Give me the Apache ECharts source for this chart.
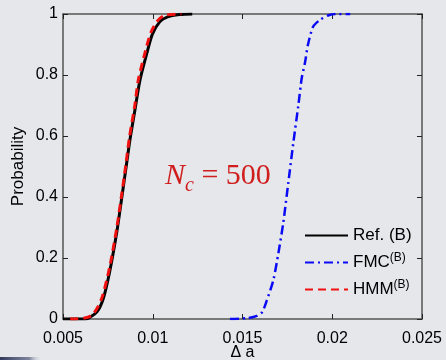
<!DOCTYPE html>
<html>
<head>
<meta charset="utf-8">
<script src="https://cdn.jsdelivr.net/npm/echarts@6/dist/echarts.min.js"></script>
<style>
  html, body { margin: 0; padding: 0; background: #e6e7eb; }
  #chart { width: 446px; height: 360px; }
</style>
</head>
<body>
<div id="chart"></div>
<script>
// cumulative curves: [delta a, probability]
const refB = [
  [0.0050, 0], [0.0062, 0], [0.0064, 0.002], [0.0069, 0.024], [0.00725, 0.068],
  [0.0076, 0.155], [0.0080, 0.286], [0.00827, 0.396], [0.00852, 0.5],
  [0.00873, 0.588], [0.00901, 0.686], [0.00929, 0.784], [0.00966, 0.869],
  [0.00998, 0.934], [0.0104, 0.975], [0.0108, 0.99], [0.0115, 0.998], [0.0122, 1]
];
const hmmB = [
  [0.0054, 0], [0.0062, 0.003], [0.0066, 0.012], [0.0069, 0.035], [0.0072, 0.075],
  [0.0076, 0.17], [0.0080, 0.30], [0.00825, 0.40], [0.0085, 0.505], [0.0087, 0.595],
  [0.0090, 0.70], [0.0092, 0.785], [0.0096, 0.88], [0.0099, 0.94],
  [0.0103, 0.98], [0.0107, 0.996], [0.0116, 1]
];
const fmcB = [
  [0.0143, 0], [0.0153, 0.003], [0.0158, 0.01], [0.0161, 0.023], [0.01635, 0.06],
  [0.01672, 0.128], [0.0170, 0.216], [0.01727, 0.315], [0.01755, 0.446],
  [0.01783, 0.577], [0.01811, 0.70], [0.0183, 0.79], [0.01848, 0.84],
  [0.01865, 0.90], [0.01893, 0.958], [0.0193, 0.98], [0.0198, 0.996],
  [0.0202, 1], [0.0210, 1]
];
const seriesNames = ["Ref. (B)", "FMC(B)", "HMM(B)"];
const xTicks = { min: 0.005, max: 0.025, step: 0.005 };
const yTicks = { min: 0, max: 1, step: 0.2 };

const chart = echarts.init(document.getElementById("chart"), null, { renderer: "canvas" });

const axisColor = "#555";
const font = "Liberation Sans";

function baseX(show) {
  return {
    type: "value",
    min: xTicks.min,
    max: xTicks.max,
    interval: xTicks.step,
    position: show ? "bottom" : "top",
    axisLine: { show: true, onZero: false, lineStyle: { color: axisColor, width: 1.5 } },
    axisTick: { show: true, inside: true, length: 5, lineStyle: { color: "#222", width: 1 } },
    splitLine: { show: false },
    axisLabel: {
      show: show,
      color: "#000",
      fontFamily: font,
      fontSize: 16,
      margin: 12,
      formatter: (v) => String(+v.toFixed(3)),
    },
  };
}
function baseY(show) {
  return {
    type: "value",
    min: yTicks.min,
    max: yTicks.max,
    interval: yTicks.step,
    position: show ? "left" : "right",
    axisLine: { show: true, onZero: false, lineStyle: { color: axisColor, width: 1.5 } },
    axisTick: { show: true, inside: true, length: 5, lineStyle: { color: "#222", width: 1 } },
    splitLine: { show: false },
    axisLabel: {
      show: show,
      color: "#000",
      fontFamily: font,
      fontSize: 16,
      margin: 5,
      formatter: (v) => String(+v.toFixed(1)),
    },
  };
}

const xMain = baseX(true);
xMain.name = "\u0394 a";
xMain.nameLocation = "middle";
xMain.nameGap = 26;
xMain.nameMoveOverlap = false;
xMain.nameTextStyle = { color: "#000", fontFamily: font, fontSize: 16 };
const yMain = baseY(true);
yMain.name = "Probability";
yMain.nameLocation = "middle";
yMain.nameGap = 36;
yMain.nameMoveOverlap = false;
yMain.nameTextStyle = { color: "#000", fontFamily: font, fontSize: 17 };

const rich = {
  n: { fontFamily: font, fontSize: 17, color: "#000" },
  s: { fontFamily: font, fontSize: 12, color: "#000", verticalAlign: "top", padding: [0, 0, 9, 0] },
};

chart.setOption({
  backgroundColor: "#e6e7eb",
  animation: false,
  grid: { left: 63, right: 24, top: 14, bottom: 41, outerBoundsMode: "none" },
  xAxis: [xMain, baseX(false)],
  yAxis: [yMain, baseY(false)],
  legend: {
    orient: "vertical",
    left: 299,
    top: 222,
    itemWidth: 43,
    itemHeight: 14,
    itemGap: 8,
    data: seriesNames,
    itemStyle: { opacity: 0 },
    formatter: (name) => {
      if (name === "Ref. (B)") return "{n|Ref. (B)}";
      return "{n|" + name.replace("(B)", "") + "}{s|(B)}";
    },
    textStyle: { rich: rich },
  },
  graphic: [
    {
      type: "text",
      left: 165,
      top: 161,
      style: {
        text: "{i|N}{c|c}{e| = 500}",
        fill: "#d01e1e",
        rich: {
          i: { fontFamily: "Liberation Serif", fontStyle: "italic", fontSize: 30, fill: "#d01e1e" },
          c: { fontFamily: "Liberation Serif", fontStyle: "italic", fontSize: 20, fill: "#d01e1e", padding: [20, 0, 0, 0] },
          e: { fontFamily: "Liberation Serif", fontSize: 30, fill: "#d01e1e" },
        },
      },
    },
    {
      // scan shadow in the bottom-left corner of the original figure
      type: "rect",
      left: 0,
      bottom: 0,
      shape: { width: 42, height: 3 },
      style: {
        fill: new echarts.graphic.LinearGradient(0, 0, 1, 0, [
          { offset: 0, color: "rgba(30,40,75,0.9)" },
          { offset: 0.7, color: "rgba(60,70,110,0.6)" },
          { offset: 1, color: "rgba(230,231,235,0)" },
        ]),
      },
    },
  ],
  series: [
    {
      name: seriesNames[0],
      type: "line",
      data: refB,
      symbol: "none",
      smooth: 0.25,
      lineStyle: { color: "#000", width: 3 },
      itemStyle: { color: "#000" },
      z: 2,
    },
    {
      name: seriesNames[1],
      type: "line",
      data: fmcB,
      symbol: "none",
      smooth: 0.25,
      lineStyle: { color: "#0a0af5", width: 2.5, type: [9, 4, 2, 4] },
      itemStyle: { color: "#0a0af5" },
      z: 3,
    },
    {
      name: seriesNames[2],
      type: "line",
      data: hmmB,
      symbol: "none",
      smooth: 0.25,
      lineStyle: { color: "#f01010", width: 3, type: [8, 5] },
      itemStyle: { color: "#f01010" },
      z: 4,
    },
  ],
});
</script>
</body>
</html>
